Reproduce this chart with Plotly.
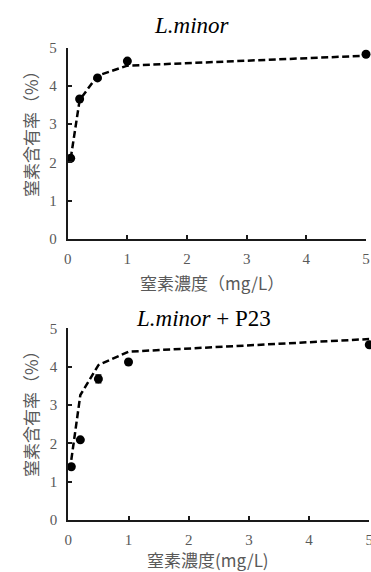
import plotly.graph_objects as go

# Data
conc = [0.05, 0.2, 0.5, 1, 5]
lm_obs = [2.11, 3.66, 4.21, 4.65, 4.83]
lm_fit = [2.10, 3.63, 4.27, 4.53, 4.79]
p23_obs = [1.39, 2.09, 3.68, 4.12, 4.57]
p23_err = [0.03, 0.03, 0.10, 0.03, 0.03]
p23_fit = [1.57, 3.26, 4.04, 4.39, 4.72]
xticks = [0, 1, 2, 3, 4, 5]
yticks = [0, 1, 2, 3, 4, 5]

fig = go.Figure()

line_style = dict(color="black", width=2.5, dash="7px,3.5px")
marker_style = dict(color="black", size=9)

fig.add_trace(go.Scatter(x=conc, y=lm_fit, mode="lines", line=line_style,
                         xaxis="x", yaxis="y", showlegend=False, cliponaxis=False))
fig.add_trace(go.Scatter(x=conc, y=lm_obs, mode="markers", marker=marker_style,
                         xaxis="x", yaxis="y", showlegend=False, cliponaxis=False))
fig.add_trace(go.Scatter(x=conc, y=p23_fit, mode="lines", line=line_style,
                         xaxis="x2", yaxis="y2", showlegend=False, cliponaxis=False))
fig.add_trace(go.Scatter(x=conc, y=p23_obs, mode="markers", marker=marker_style,
                         error_y=dict(type="data", array=p23_err, color="black", thickness=1.5, width=3),
                         xaxis="x2", yaxis="y2", showlegend=False, cliponaxis=False))

W, H = 371, 572

def px_x(x):
    return x / W

def px_y(y):
    return 1 - y / H

tickfont = dict(family="Liberation Serif", size=15, color="#595959")
axis_common = dict(range=[0, 5], showgrid=False, zeroline=False, showline=True,
                   linecolor="#1a1a1a", linewidth=2, ticks="inside", ticklen=4,
                   tickwidth=1.5, tickcolor="#1a1a1a", tickfont=tickfont,
                   tickvals=xticks, fixedrange=True, automargin=False,
                   ticklabeloverflow="allow")

fig.update_layout(
    template="none",
    width=W, height=H,
    margin=dict(l=0, r=0, t=0, b=0, pad=0),
    paper_bgcolor="white", plot_bgcolor="white",
    xaxis=dict(**axis_common, domain=[px_x(67.7), px_x(366)], anchor="y", ticklabelstandoff=5),
    yaxis=dict(**{**axis_common, "tickvals": yticks}, domain=[px_y(239), px_y(47.7)], anchor="x",
               ticklabelstandoff=6),
    xaxis2=dict(**axis_common, domain=[px_x(68.3), px_x(369.3)], anchor="y2", ticklabelstandoff=5),
    yaxis2=dict(**{**axis_common, "tickvals": yticks}, domain=[px_y(520), px_y(328.3)], anchor="x2",
                ticklabelstandoff=6),
)

title_font = dict(family="Liberation Serif", size=23, color="black")
label_font = dict(family="Noto Sans CJK JP", size=17, color="#595959")

def ann(text, x, y, font, angle=0):
    fig.add_annotation(text=text, x=px_x(x), y=px_y(y), xref="paper", yref="paper",
                       showarrow=False, font=font, textangle=angle,
                       xanchor="center", yanchor="middle")

ann("<i>L.minor</i>", 192, 25, title_font)
ann("<i>L.minor</i> + P23", 203, 318, title_font)
ann("窒素含有率（%）", 30, 130, label_font, -90)
ann("窒素含有率（%）", 30, 410, label_font, -90)
ann("窒素濃度（mg/L）", 212, 282, label_font)
ann("窒素濃度(mg/L)", 208, 559, label_font)

fig.write_html(
    "out.html",
    config={"displayModeBar": False},
    post_script="document.body.style.margin='0';document.body.style.overflow='hidden';",
)
